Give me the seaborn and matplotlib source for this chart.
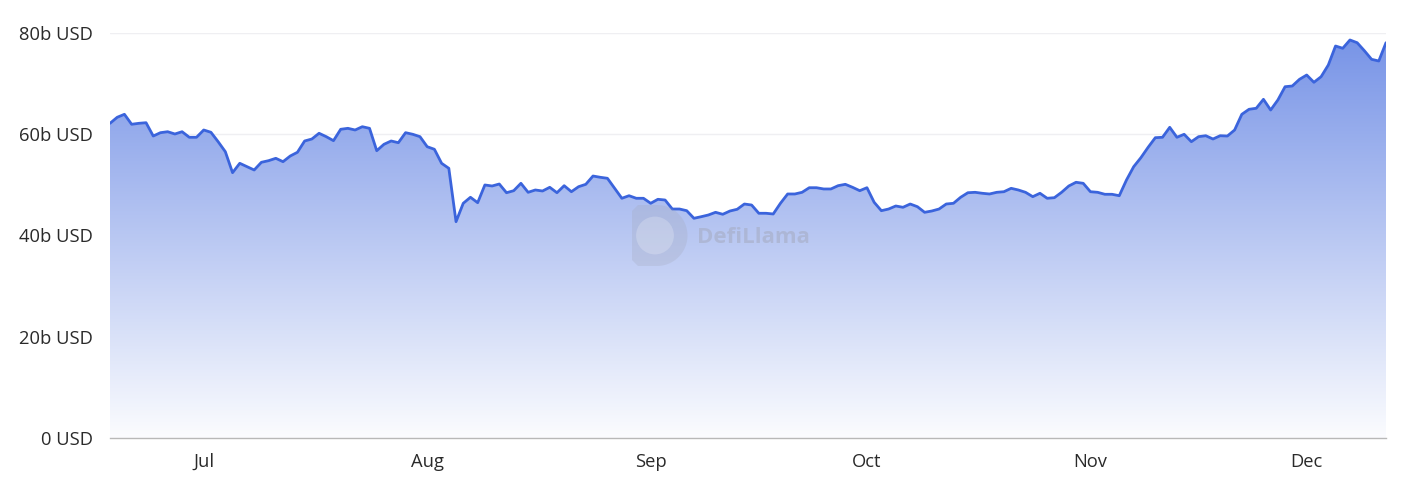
import numpy as np
import pandas as pd
import matplotlib
matplotlib.use("Agg")
import matplotlib.pyplot as plt
import matplotlib.dates as mdates
from matplotlib.path import Path
from matplotlib.patches import PathPatch, Circle
import seaborn as sns

# ---------------- data ----------------
start_date = "2024-06-18"
tvl_billions = [
    62.16, 63.35, 63.94, 61.97, 62.16, 62.28, 59.65, 60.31, 60.50, 60.05,
    60.50, 59.40, 59.40, 60.84, 60.39, 58.53, 56.55, 52.41, 54.26, 53.59,
    52.94, 54.46, 54.78, 55.25, 54.58, 55.70, 56.44, 58.67, 59.06, 60.19,
    59.52, 58.73, 60.98, 61.17, 60.84, 61.49, 61.17, 56.75, 58.01, 58.67,
    58.33, 60.31, 59.99, 59.52, 57.54, 57.03, 54.26, 53.27, 42.73, 46.36,
    47.55, 46.48, 49.98, 49.78, 50.17, 48.45, 48.85, 50.31, 48.53, 48.99,
    48.79, 49.52, 48.45, 49.84, 48.65, 49.64, 50.11, 51.75, 51.50, 51.30,
    49.32, 47.35, 47.86, 47.35, 47.35, 46.36, 47.15, 47.01, 45.23, 45.23,
    44.90, 43.40, 43.71, 44.05, 44.58, 44.19, 44.84, 45.18, 46.22, 46.02,
    44.39, 44.39, 44.25, 46.36, 48.20, 48.20, 48.53, 49.44, 49.44, 49.19,
    49.19, 49.84, 50.11, 49.52, 48.85, 49.44, 46.56, 44.90, 45.23, 45.83,
    45.57, 46.22, 45.69, 44.58, 44.84, 45.23, 46.22, 46.36, 47.55, 48.45,
    48.53, 48.34, 48.20, 48.53, 48.65, 49.32, 48.99, 48.53, 47.67, 48.34,
    47.35, 47.47, 48.53, 49.78, 50.51, 50.31, 48.65, 48.53, 48.14, 48.14,
    47.86, 50.96, 53.59, 55.37, 57.42, 59.32, 59.40, 61.37, 59.40, 59.99,
    58.53, 59.52, 59.71, 59.06, 59.71, 59.65, 60.84, 63.94, 64.93, 65.13,
    66.90, 64.79, 66.77, 69.39, 69.53, 70.85, 71.70, 70.26, 71.37, 73.68,
    77.43, 76.98, 78.62, 78.08, 76.50, 74.80, 74.47, 78.08,
]
dates = pd.date_range(start_date, periods=len(tvl_billions), freq="D")
y_ticks = [0, 20, 40, 60, 80]
y_tick_labels = ["0 USD", "20b USD", "40b USD", "60b USD", "80b USD"]
month_labels = ["Jul", "Aug", "Sep", "Oct", "Nov", "Dec"]

df = pd.DataFrame({"date": dates, "tvl": tvl_billions})

# ---------------- style ----------------
sns.set_theme(style="white")
plt.rcParams["font.family"] = ["Open Sans", "DejaVu Sans"]

LINE = "#3b64dc"
W, H, DPI = 1407, 490, 100
fig = plt.figure(figsize=(W / DPI, H / DPI), dpi=DPI)
ax = fig.add_axes([110 / W, (H - 438) / H, (1386 - 110) / W, (438 - 33) / H])

xmin, xmax = mdates.date2num(dates[0]), mdates.date2num(dates[-1])
ax.set_xlim(dates[0], dates[-1])
ax.set_ylim(0, 80)

# gradient fill under the curve (opaque, blended with white)
grad = np.linspace(0, 1, 256).reshape(-1, 1)
rgb = np.array(matplotlib.colors.to_rgb(LINE))
alpha = 0.02 + 0.68 * grad
img = np.ones((256, 1, 3)) * (1 - alpha[..., None]) + rgb * alpha[..., None]
im = ax.imshow(img, extent=[xmin, xmax, 0, 80], origin="lower",
               aspect="auto", zorder=1, interpolation="bilinear")
poly = ax.fill_between(df["date"], df["tvl"], 0, color="none", lw=0)
clip = PathPatch(poly.get_paths()[0], transform=ax.transData,
                 facecolor="none", edgecolor="none")
ax.add_patch(clip)
im.set_clip_path(clip)

sns.lineplot(data=df, x="date", y="tvl", ax=ax, color=LINE, lw=2.0, zorder=3)

# grid and axes
for v in y_ticks[1:]:
    ax.axhline(v, color="#efeff2", lw=1, zorder=0)
ax.set_yticks(y_ticks)
ax.set_yticklabels(y_tick_labels)
month_ticks = pd.date_range("2024-07-01", periods=len(month_labels), freq="MS")
ax.set_xticks(month_ticks)
ax.set_xticklabels(month_labels)
ax.set_xlabel("")
ax.set_ylabel("")
for s in ["top", "right", "left"]:
    ax.spines[s].set_visible(False)
ax.spines["bottom"].set_color("#b8b8b8")
ax.spines["bottom"].set_linewidth(1)
ax.spines["bottom"].set_zorder(4)
ax.tick_params(axis="x", length=5, width=1, color="#9a9a9a", pad=6,
               labelsize=13.2, labelcolor="#2a2a2a", direction="out")
ax.tick_params(axis="y", length=0, pad=12, labelsize=13.2, labelcolor="#2a2a2a")
for lab in ax.get_yticklabels():
    lab.set_y(lab.get_position()[1])

# watermark
wm = "#a3a8bb"
cx, cy_top, cy_bot = 632, 490 - 205, 490 - 266
r = (cy_top - cy_bot) / 2
xc = 657
cyc = (cy_top + cy_bot) / 2
theta = np.linspace(np.pi / 2, -np.pi / 2, 40)
arc = np.column_stack([xc + r * np.cos(theta), cyc + r * np.sin(theta)])
verts = np.vstack([[[cx + 6, cy_top], [xc, cy_top]], arc,
                   [[cx + 6, cy_bot], [cx, cy_bot + 6], [cx, cy_top - 6], [cx + 6, cy_top]]])
logo = PathPatch(Path(verts), transform=None, facecolor=wm, edgecolor="none",
                 alpha=0.28, zorder=2)
fig.patches.append(logo)
ring = Circle((xc - 2, cyc), r * 0.62, transform=None, facecolor="white",
              edgecolor="none", alpha=0.22, zorder=2)
fig.patches.append(ring)
fig.text(697 / W, (490 - 237) / H, "DefiLlama", fontsize=16, fontweight="bold",
         color=wm, alpha=0.5, ha="left", va="center", zorder=2)

fig.savefig("out.png", dpi=DPI)
